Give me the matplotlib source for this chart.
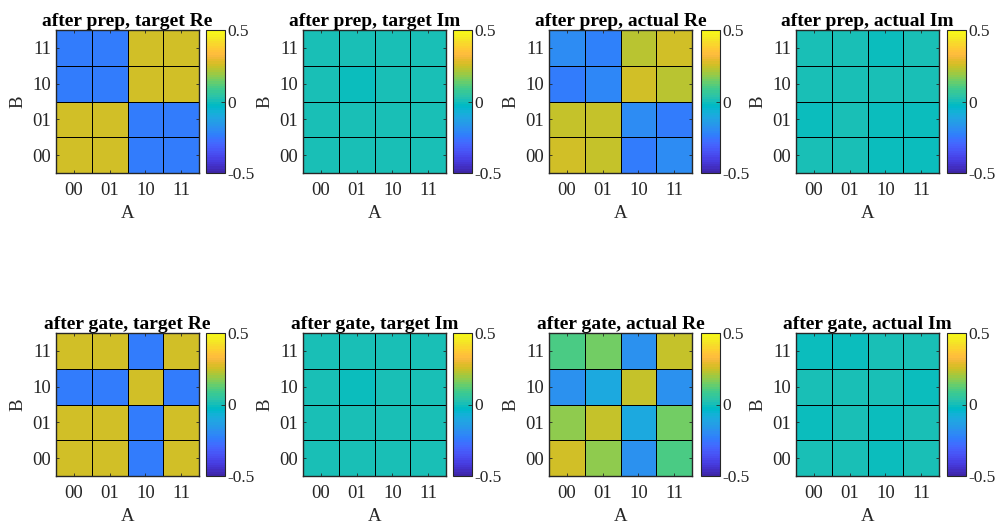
import numpy as np
import matplotlib
matplotlib.use("Agg")
import matplotlib.pyplot as plt
from matplotlib.colors import ListedColormap, Normalize

plt.rcParams['font.family'] = ['Liberation Serif', 'DejaVu Serif']
plt.rcParams['mathtext.fontset'] = 'stix'

# MATLAB parula (64 entries)
parula = [
    [0.2422, 0.1504, 0.6603], [0.2504, 0.1650, 0.7076], [0.2578, 0.1818, 0.7511], [0.2647, 0.1978, 0.7952],
    [0.2706, 0.2147, 0.8364], [0.2751, 0.2342, 0.8710], [0.2783, 0.2559, 0.8991], [0.2803, 0.2782, 0.9221],
    [0.2813, 0.3006, 0.9414], [0.2810, 0.3228, 0.9579], [0.2795, 0.3447, 0.9717], [0.2760, 0.3667, 0.9829],
    [0.2699, 0.3892, 0.9906], [0.2602, 0.4123, 0.9952], [0.2440, 0.4358, 0.9988], [0.2206, 0.4603, 0.9973],
    [0.1963, 0.4847, 0.9892], [0.1834, 0.5074, 0.9798], [0.1786, 0.5289, 0.9682], [0.1764, 0.5499, 0.9520],
    [0.1687, 0.5703, 0.9359], [0.1540, 0.5902, 0.9218], [0.1460, 0.6091, 0.9079], [0.1380, 0.6276, 0.8973],
    [0.1248, 0.6459, 0.8883], [0.1113, 0.6635, 0.8763], [0.0952, 0.6798, 0.8598], [0.0689, 0.6948, 0.8394],
    [0.0297, 0.7082, 0.8163], [0.0036, 0.7203, 0.7917], [0.0067, 0.7312, 0.7660], [0.0433, 0.7411, 0.7394],
    [0.0964, 0.7500, 0.7120], [0.1408, 0.7584, 0.6842], [0.1717, 0.7670, 0.6554], [0.1938, 0.7758, 0.6251],
    [0.2161, 0.7843, 0.5923], [0.2470, 0.7918, 0.5567], [0.2906, 0.7973, 0.5188], [0.3406, 0.8008, 0.4789],
    [0.3909, 0.8029, 0.4354], [0.4456, 0.8024, 0.3909], [0.5044, 0.7993, 0.3480], [0.5616, 0.7942, 0.3045],
    [0.6174, 0.7876, 0.2612], [0.6720, 0.7793, 0.2227], [0.7242, 0.7698, 0.1910], [0.7738, 0.7598, 0.1646],
    [0.8203, 0.7498, 0.1535], [0.8634, 0.7406, 0.1596], [0.9035, 0.7330, 0.1774], [0.9393, 0.7288, 0.2100],
    [0.9728, 0.7298, 0.2394], [0.9956, 0.7434, 0.2371], [0.9970, 0.7659, 0.2199], [0.9952, 0.7893, 0.2028],
    [0.9892, 0.8136, 0.1885], [0.9786, 0.8386, 0.1766], [0.9676, 0.8639, 0.1643], [0.9610, 0.8890, 0.1537],
    [0.9597, 0.9135, 0.1423], [0.9628, 0.9373, 0.1265], [0.9691, 0.9606, 0.1064], [0.9769, 0.9839, 0.0805],
]
cmap = ListedColormap(parula)

# Data: rows are B = 00, 01, 10, 11 (bottom to top); columns A = 00, 01, 10, 11
tick_labels = ['00', '01', '10', '11']

prep_target_re = [[0.25, 0.25, -0.25, -0.25],
                  [0.25, 0.25, -0.25, -0.25],
                  [-0.25, -0.25, 0.25, 0.25],
                  [-0.25, -0.25, 0.25, 0.25]]
prep_target_im = [[0.0, 0.0, 0.0, 0.0],
                  [0.0, 0.0, 0.0, 0.0],
                  [0.0, -0.001, 0.0, 0.0],
                  [0.0, 0.0, 0.0, 0.0]]
prep_actual_re = [[0.262, 0.245, -0.235, -0.20],
                  [0.245, 0.245, -0.20, -0.235],
                  [-0.235, -0.205, 0.25, 0.225],
                  [-0.20, -0.23, 0.225, 0.25]]
prep_actual_im = [[0.008, 0.008, -0.008, -0.008],
                  [-0.008, 0.008, -0.008, -0.008],
                  [0.008, 0.008, 0.008, 0.008],
                  [0.008, 0.008, -0.008, 0.008]]
gate_target_re = [[0.25, 0.25, -0.25, 0.25],
                  [0.25, 0.25, -0.25, 0.25],
                  [-0.25, -0.25, 0.25, -0.25],
                  [0.25, 0.25, -0.25, 0.25]]
gate_target_im = [[0.0, 0.0, 0.0, 0.0],
                  [0.0, 0.0, 0.0, 0.0],
                  [0.0, -0.001, 0.0, 0.0],
                  [0.0, 0.0, 0.0, 0.0]]
gate_actual_re = [[0.25, 0.18, -0.18, 0.10],
                  [0.18, 0.245, -0.10, 0.15],
                  [-0.18, -0.10, 0.24, -0.18],
                  [0.10, 0.15, -0.18, 0.24]]
gate_actual_im = [[0.008, 0.008, -0.008, 0.008],
                  [-0.008, 0.008, -0.008, 0.008],
                  [0.008, 0.008, 0.008, -0.008],
                  [-0.008, -0.008, 0.008, 0.008]]

titles = ['after prep, target Re', 'after prep, target Im', 'after prep, actual Re', 'after prep, actual Im',
          'after gate, target Re', 'after gate, target Im', 'after gate, actual Re', 'after gate, actual Im']
datasets = [prep_target_re, prep_target_im, prep_actual_re, prep_actual_im,
            gate_target_re, gate_target_im, gate_actual_re, gate_actual_im]

W, H = 999, 528
fig = plt.figure(figsize=(W / 100, H / 100), dpi=100)

ax_lefts = [56, 303, 549, 796]
cb_lefts = [206, 453, 701, 947]
ax_tops = [30, 333]
size = 143
cbw = 19
axcol = (0.15, 0.15, 0.15)
norm = Normalize(vmin=-0.5, vmax=0.5)

for i, (title, data) in enumerate(zip(titles, datasets)):
    r, c = divmod(i, 4)
    top = ax_tops[r]
    ax = fig.add_axes([ax_lefts[c] / W, (H - top - size) / H, size / W, size / H])
    arr = np.array(data)
    edges = np.arange(5) - 0.5
    mesh = ax.pcolormesh(edges, edges, arr, cmap=cmap, norm=norm,
                         edgecolors='k', linewidth=0.7)
    ax.set_xlim(-0.5, 3.5)
    ax.set_ylim(-0.5, 3.5)
    ax.set_xticks(range(4))
    ax.set_yticks(range(4))
    ax.set_xticklabels(tick_labels)
    ax.set_yticklabels(tick_labels)
    ax.tick_params(direction='in', length=2.5, width=0.6, top=True, right=True,
                   labelsize=13.5, colors=axcol, labelcolor=(0.15, 0.15, 0.15))
    ax.tick_params(axis='x', pad=6.5)
    ax.tick_params(axis='y', pad=3.5)
    for s in ax.spines.values():
        s.set_color(axcol)
        s.set_linewidth(1.0)
    ax.set_xlabel('A', fontsize=13.5, color=axcol, labelpad=4)
    ax.set_ylabel('B', fontsize=13.5, color=axcol, labelpad=4)
    ax.set_title(title, fontsize=14, fontweight='bold', pad=3)

    cax = fig.add_axes([cb_lefts[c] / W, (H - top - size) / H, cbw / W, size / H])
    cb = fig.colorbar(mesh, cax=cax, ticks=[-0.5, 0, 0.5])
    cb.ax.set_yticklabels(['-0.5', '0', '0.5'])
    cb.ax.tick_params(direction='in', length=3, width=0.6, labelsize=12.5, colors=axcol,
                      labelcolor=(0.15, 0.15, 0.15), pad=2)
    cb.outline.set_edgecolor(axcol)
    cb.outline.set_linewidth(0.8)

fig.savefig('out.png', dpi=100, facecolor='white')
